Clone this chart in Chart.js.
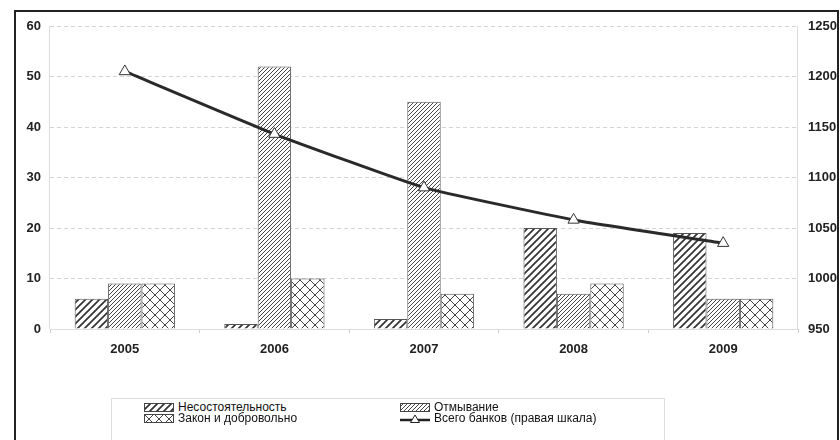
<!DOCTYPE html>
<html>
<head>
<meta charset="utf-8">
<script src="https://cdn.jsdelivr.net/npm/chart.js@4/dist/chart.umd.min.js"></script>
<style>
    html, body { margin: 0; padding: 0; background: #fff; }
    #wrap { position: relative; width: 840px; height: 440px; overflow: hidden; }
    #chart { position: absolute; left: 0; top: 0; }
    #frame { position: absolute; left: 14px; top: 10px; width: 821px; height: 460px; border: 2px solid #222; pointer-events: none; }
    #legend { position: absolute; left: 111px; top: 398px; width: 552px; height: 60px; border: 1px solid #ddd; background: #fff; }
    .item { position: absolute; font-family: "Liberation Sans", Arial, sans-serif; font-size: 12px; color: #111; line-height: 12px; white-space: nowrap; }
    .item canvas { vertical-align: -1px; margin-right: 4px; }
</style>
</head>
<body>
<div id="wrap">
    <canvas id="chart" width="840" height="440"></canvas>
    <div id="frame"></div>
    <div id="legend"></div>
</div>
<script>
// данные
const years = ['2005', '2006', '2007', '2008', '2009'];
const nesost = [6, 1, 2, 20, 19];
const otmyv = [9, 52, 45, 7, 6];
const zakon = [9, 10, 7, 9, 6];
const vsegoBankov = [1205, 1143, 1090, 1058, 1035];
const seriesNames = ['Несостоятельность', 'Отмывание', 'Закон и добровольно', 'Всего банков (правая шкала)'];

// штриховки
function diagPattern(size, width, color) {
    const c = document.createElement('canvas');
    c.width = size; c.height = size;
    const x = c.getContext('2d');
    x.fillStyle = '#fff';
    x.fillRect(0, 0, size, size);
    x.strokeStyle = color;
    x.lineWidth = width;
    x.beginPath();
    x.moveTo(-1, size + 1); x.lineTo(size + 1, -1);
    x.moveTo(-1, 1); x.lineTo(1, -1);
    x.moveTo(size - 1, size + 1); x.lineTo(size + 1, size - 1);
    x.stroke();
    return c;
}

function crossPattern(size, width, color) {
    const c = document.createElement('canvas');
    c.width = size; c.height = size;
    const x = c.getContext('2d');
    x.fillStyle = '#fff';
    x.fillRect(0, 0, size, size);
    x.strokeStyle = color;
    x.lineWidth = width;
    x.beginPath();
    x.moveTo(0, 0); x.lineTo(size, size);
    x.moveTo(0, size); x.lineTo(size, 0);
    x.stroke();
    return c;
}

const ctx = document.getElementById('chart').getContext('2d');
const tiles = [diagPattern(7, 1.7, '#333'), diagPattern(4, 1, '#444'), crossPattern(10, 1, '#444')];
const fills = tiles.map(t => ctx.createPattern(t, 'repeat'));

const tickFont = { family: '"Liberation Sans", Arial, sans-serif', size: 13, weight: 'bold' };

// сплошные линии осей поверх пунктирной сетки
const axisLines = {
    id: 'axisLines',
    beforeDatasetsDraw(chart) {
        const a = chart.chartArea;
        const c = chart.ctx;
        c.save();
        c.strokeStyle = '#ddd';
        c.lineWidth = 1;
        c.setLineDash([]);
        c.beginPath();
        c.moveTo(a.left - 0.5, a.top); c.lineTo(a.left - 0.5, a.bottom);
        c.moveTo(a.right - 0.5, a.top); c.lineTo(a.right - 0.5, a.bottom);
        c.moveTo(a.left, a.bottom + 0.5); c.lineTo(a.right, a.bottom + 0.5);
        c.stroke();
        c.restore();
    }
};

const chart = new Chart(ctx, {
    type: 'bar',
    data: {
        labels: years,
        datasets: [
            {
                type: 'line',
                label: seriesNames[3],
                data: vsegoBankov,
                yAxisID: 'y1',
                borderColor: '#2a2a2a',
                borderWidth: 3,
                tension: 0.12,
                pointStyle: 'triangle',
                pointRadius: 6.5,
                pointBackgroundColor: '#fff',
                pointBorderColor: '#333',
                pointBorderWidth: 1,
                order: 0
            },
            { label: seriesNames[0], data: nesost, backgroundColor: fills[0], borderColor: '#555', borderWidth: 1, order: 1 },
            { label: seriesNames[1], data: otmyv, backgroundColor: fills[1], borderColor: '#555', borderWidth: 1, order: 1 },
            { label: seriesNames[2], data: zakon, backgroundColor: fills[2], borderColor: '#555', borderWidth: 1, order: 1 }
        ]
    },
    options: {
        responsive: false,
        animation: false,
        layout: { padding: { top: 26, left: 0, right: 0, bottom: 0 } },
        datasets: { bar: { categoryPercentage: 0.67, barPercentage: 1.0 } },
        plugins: { legend: { display: false }, tooltip: { enabled: false } },
        scales: {
            x: {
                offset: true,
                grid: { display: true, drawOnChartArea: false, offset: true, tickLength: 4, color: '#ccc' },
                border: { display: false },
                ticks: { font: tickFont, color: '#222', padding: 9 },
                afterFit: s => { s.height = 111; }
            },
            y: {
                position: 'left',
                min: 0, max: 60,
                ticks: { stepSize: 10, font: tickFont, color: '#222', padding: 9 },
                grid: { color: '#d4d4d4', drawTicks: false },
                border: { display: false, dash: [4, 3] },
                afterFit: s => { s.width = 50; }
            },
            y1: {
                position: 'right',
                min: 950, max: 1250,
                ticks: { stepSize: 50, font: tickFont, color: '#222', padding: 10, callback: v => String(v) },
                grid: { drawOnChartArea: false, drawTicks: false },
                border: { display: false },
                afterFit: s => { s.width = 42; }
            }
        }
    },
    plugins: [axisLines]
});

// легенда
function swatch(i) {
    const c = document.createElement('canvas');
    c.width = 30; c.height = 9;
    const x = c.getContext('2d');
    if (i < 3) {
        x.fillStyle = x.createPattern(tiles[i], 'repeat');
        x.fillRect(0, 0, 30, 9);
        x.strokeStyle = '#444';
        x.lineWidth = 1;
        x.strokeRect(0.5, 0.5, 29, 8);
    } else {
        x.strokeStyle = '#222';
        x.lineWidth = 2.5;
        x.beginPath(); x.moveTo(0, 6); x.lineTo(30, 6); x.stroke();
        x.fillStyle = '#fff';
        x.lineWidth = 1;
        x.beginPath(); x.moveTo(15, 1); x.lineTo(19.5, 8.5); x.lineTo(10.5, 8.5); x.closePath();
        x.fill(); x.stroke();
    }
    return c;
}

const legendPos = [[32, 2], [288, 2], [32, 13], [288, 13]];
const legendOrder = [0, 1, 2, 3];
const legend = document.getElementById('legend');
legendOrder.forEach((idx, k) => {
    const d = document.createElement('div');
    d.className = 'item';
    d.style.left = legendPos[k][0] + 'px';
    d.style.top = legendPos[k][1] + 'px';
    d.appendChild(swatch(idx));
    d.appendChild(document.createTextNode(seriesNames[idx]));
    legend.appendChild(d);
});
</script>
</body>
</html>
